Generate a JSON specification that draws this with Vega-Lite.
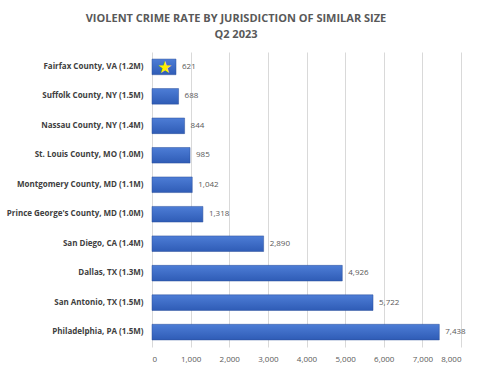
{
  "$schema": "https://vega.github.io/schema/vega-lite/v6.json",
  "width": 480,
  "height": 373,
  "autosize": {"type": "fit", "contains": "padding"},
  "padding": {"left": 6, "top": 13, "right": 19, "bottom": 10},
  "background": "white",
  "title": {
    "text": ["VIOLENT CRIME RATE BY JURISDICTION OF SIMILAR SIZE", "Q2 2023"],
    "anchor": "middle",
    "frame": "bounds",
    "offset": 12,
    "font": "Open Sans",
    "fontSize": 11,
    "fontWeight": "bold",
    "color": "#595959",
    "lineHeight": 16
  },
  "data": {
    "values": [
      {"name": "Fairfax County, VA (1.2M)", "rate": 621, "highlight": true},
      {"name": "Suffolk County, NY (1.5M)", "rate": 688, "highlight": false},
      {"name": "Nassau County, NY (1.4M)", "rate": 844, "highlight": false},
      {"name": "St. Louis County, MO (1.0M)", "rate": 985, "highlight": false},
      {"name": "Montgomery County, MD (1.1M)", "rate": 1042, "highlight": false},
      {"name": "Prince George's County, MD (1.0M)", "rate": 1318, "highlight": false},
      {"name": "San Diego, CA (1.4M)", "rate": 2890, "highlight": false},
      {"name": "Dallas, TX (1.3M)", "rate": 4926, "highlight": false},
      {"name": "San Antonio, TX (1.5M)", "rate": 5722, "highlight": false},
      {"name": "Philadelphia, PA (1.5M)", "rate": 7438, "highlight": false}
    ]
  },
  "encoding": {
    "y": {
      "field": "name",
      "type": "nominal",
      "sort": null,
      "scale": {"paddingInner": 0.47, "paddingOuter": 0.24},
      "axis": {
        "title": null,
        "domain": false,
        "ticks": false,
        "labelPadding": 9,
        "labelFont": "Open Sans",
        "labelFontSize": 8,
        "labelFontWeight": "bold",
        "labelColor": "#404040"
      }
    },
    "x": {
      "field": "rate",
      "type": "quantitative",
      "scale": {"domain": [0, 8000], "nice": false},
      "axis": {
        "title": null,
        "values": [0, 1000, 2000, 3000, 4000, 5000, 6000, 7000, 8000],
        "format": ",.0f",
        "domain": false,
        "ticks": false,
        "grid": true,
        "gridColor": "#d9d9d9",
        "labelPadding": 8,
        "labelFont": "Open Sans",
        "labelFontSize": 8,
        "labelColor": "#595959"
      }
    }
  },
  "layer": [
    {
      "mark": {
        "type": "bar",
        "color": {
          "gradient": "linear",
          "x1": 0, "y1": 0, "x2": 0, "y2": 1,
          "stops": [
            {"offset": 0, "color": "#4d7dd6"},
            {"offset": 1, "color": "#2f5cb6"}
          ]
        },
        "stroke": "#2a4f9a",
        "strokeWidth": 0.5
      }
    },
    {
      "mark": {"type": "text", "align": "left", "dx": 6, "font": "Open Sans", "fontSize": 8, "color": "#595959"},
      "encoding": {"text": {"field": "rate", "type": "quantitative", "format": ",.0f"}}
    },
    {
      "transform": [{"filter": "datum.highlight"}],
      "mark": {"type": "text", "text": "★", "align": "center", "baseline": "middle", "dx": -11, "dy": 1, "font": "DejaVu Sans", "fontSize": 17, "color": "#ffee00"}
    }
  ],
  "config": {"view": {"stroke": null}}
}
